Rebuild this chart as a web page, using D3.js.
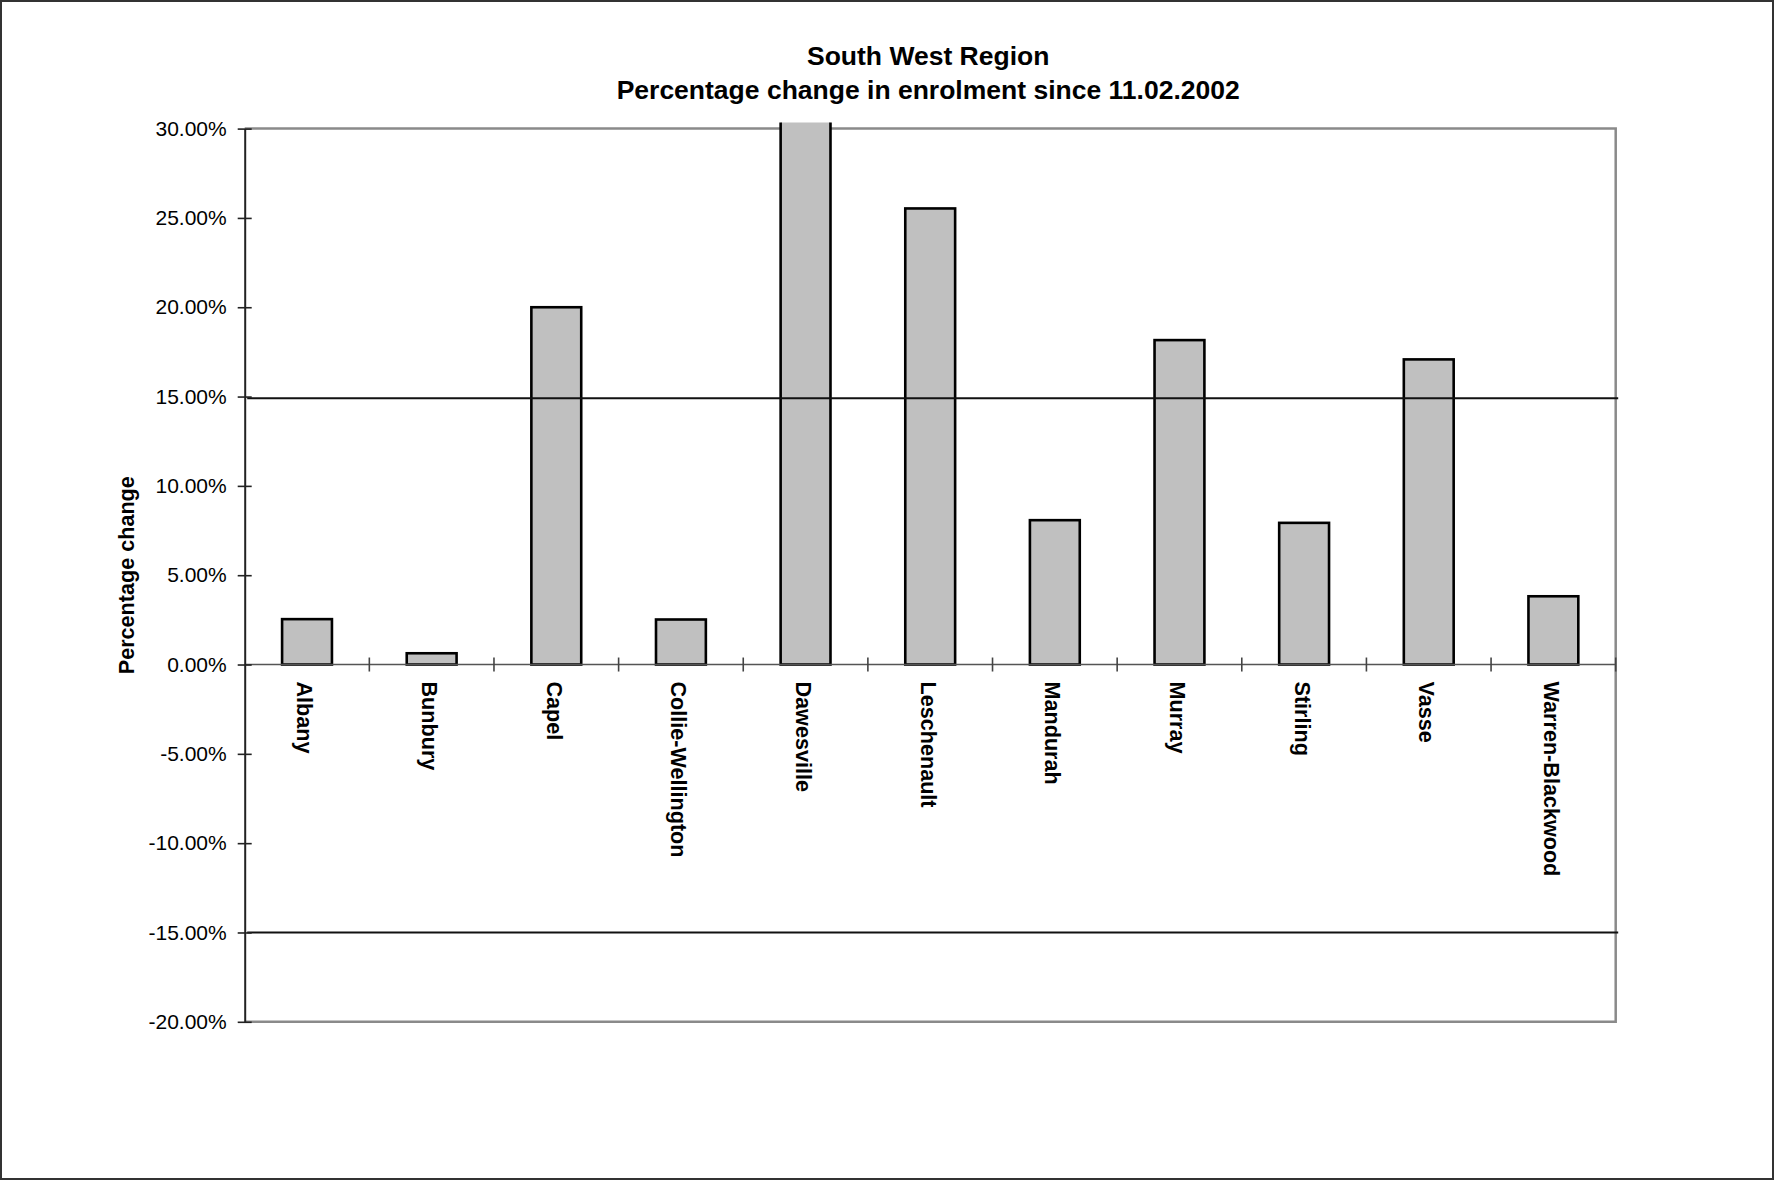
<!DOCTYPE html>
<html>
<head>
<meta charset="utf-8">
<script src="https://cdn.jsdelivr.net/npm/d3@7"></script>
<style>
html,body{margin:0;padding:0;background:#fff;}
svg{display:block;font-family:"Liberation Sans",Arial,sans-serif;}
</style>
</head>
<body>
<svg id="chart" width="1776" height="1182"></svg>
<script>
const titleLines = ["South West Region", "Percentage change in enrolment since 11.02.2002"];
const yAxisTitle = "Percentage change";
const categories = ["Albany","Bunbury","Capel","Collie-Wellington","Dawesville","Leschenault","Mandurah","Murray","Stirling","Vasse","Warren-Blackwood"];
const values = [2.54, 0.63, 20.0, 2.52, 32.0, 25.53, 8.08, 18.16, 7.93, 17.08, 3.82];
const yTicks = [-20,-15,-10,-5,0,5,10,15,20,25,30];
const refLines = [14.9, -15.0];

const svg = d3.select("#chart");
const L = 244.7, R = 1615.7, T = 128.6, B = 1021.8;

const x = d3.scaleBand().domain(categories).range([L, R]).paddingInner(0.6).paddingOuter(0.3);
const y = d3.scaleLinear().domain([-20, 30]).range([B, T]);
const step = x.step();

// outer frame
svg.append("rect").attr("x",1).attr("y",1).attr("width",1772).attr("height",1178)
  .attr("fill","none").attr("stroke","#333").attr("stroke-width",2);

// title
svg.append("g").selectAll("text").data(titleLines).join("text")
  .attr("x", (L+R)/2 - 2).attr("y", (d,i)=> 65 + i*34)
  .attr("text-anchor","middle").attr("font-weight","bold").attr("font-size",26.5)
  .attr("fill","#000").text(d=>d);

// plot border (top, right, bottom grey)
svg.append("path")
  .attr("d", `M${L},${T}H${R}V${B}H${L}`)
  .attr("fill","none").attr("stroke","#8a8a8a").attr("stroke-width",2.5);

// clip for bars (allow slight overdraw above top as in source)
svg.append("clipPath").attr("id","clip").append("rect")
  .attr("x", L).attr("y", T-6).attr("width", R-L).attr("height", B-T+6);

// bars
svg.append("g").attr("clip-path","url(#clip)").selectAll("rect").data(categories).join("rect")
  .attr("x", d=>x(d)).attr("width", x.bandwidth())
  .attr("y", (d,i)=> y(Math.max(0, values[i])))
  .attr("height", (d,i)=> Math.abs(y(values[i]) - y(0)))
  .attr("fill","#c0c0c0").attr("stroke","#000").attr("stroke-width",2.6);

// zero axis line
svg.append("line").attr("x1",L).attr("x2",R).attr("y1",y(0)).attr("y2",y(0))
  .attr("stroke","#555").attr("stroke-width",1.6);

// category tick marks (crossing axis)
const bounds = categories.map(c => x(c) - step*x.paddingOuter() + step);
svg.append("g").selectAll("line").data(bounds).join("line")
  .attr("x1",d=>d).attr("x2",d=>d).attr("y1",y(0)-7).attr("y2",y(0)+7)
  .attr("stroke","#444").attr("stroke-width",1.6);

// reference lines
svg.append("g").selectAll("line").data(refLines).join("line")
  .attr("x1", L+2.5).attr("x2", R+2.5).attr("y1", d=>y(d)).attr("y2", d=>y(d))
  .attr("stroke","#111").attr("stroke-width",2);

// y axis
const yAxis = d3.axisLeft(y).tickValues(yTicks)
  .tickFormat(d=>(d<0?"-":"")+Math.abs(d).toFixed(2)+"%")
  .tickSizeInner(7).tickSizeOuter(0).tickPadding(12);
const gy = svg.append("g").attr("transform",`translate(${L},0)`).call(yAxis);
gy.select(".domain").attr("stroke","#222").attr("stroke-width",2);
gy.selectAll(".tick line").attr("x2",-7).attr("x1",7).attr("stroke","#222").attr("stroke-width",1.6);
gy.selectAll(".tick text").attr("font-size",21).attr("font-family","Liberation Sans, Arial, sans-serif").attr("fill","#000").attr("x",-18);

// category labels
svg.append("g").selectAll("text").data(categories).join("text")
  .attr("transform", d=>`translate(${x(d)+x.bandwidth()/2 - 2},${y(0)+17}) rotate(90)`)
  .attr("dy","0.35em").attr("text-anchor","start")
  .attr("font-weight","bold").attr("font-size",21.6).attr("fill","#000").text(d=>d);

// y axis title
svg.append("text").attr("transform",`translate(126,${(T+B)/2 + 0}) rotate(-90)`)
  .attr("dy","0.35em").attr("text-anchor","middle")
  .attr("font-weight","bold").attr("font-size",21.6).attr("fill","#000").text(yAxisTitle);
</script>
</body>
</html>
